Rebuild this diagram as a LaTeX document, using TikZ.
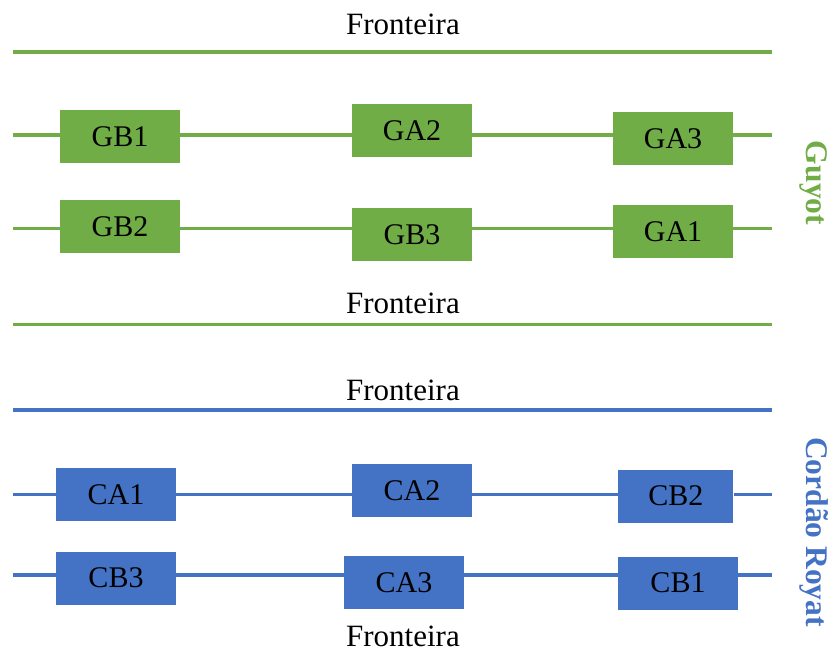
\documentclass[tikz,border=0pt]{standalone}
\usepackage{fontspec}
\setmainfont{Liberation Serif}
\definecolor{gGreen}{HTML}{70AD47}
\definecolor{gBlue}{HTML}{4472C4}
\begin{document}
\begin{tikzpicture}[x=1pt,y=-1pt,
  gbox/.style={fill=gGreen,inner sep=0pt,minimum width=120pt,minimum height=53pt,font=\fontsize{30}{30}\selectfont},
  cbox/.style={fill=gBlue,inner sep=0pt,minimum width=120pt,minimum height=53pt,font=\fontsize{30}{30}\selectfont},
  gline/.style={draw=gGreen,line width=3.4pt},
  cline/.style={draw=gBlue,line width=3.4pt},
  front/.style={anchor=base,inner sep=0pt,font=\fontsize{31}{31}\selectfont},
  side/.style={inner sep=0pt,rotate=-90,text height=22pt,text depth=7pt,font=\fontsize{31.5}{31.5}\selectfont\bfseries}]
\useasboundingbox (0,0) rectangle (832,652);
% frontier lines
\coordinate (f1a) at (13,52); \coordinate (f1b) at (772,52);
\coordinate (f2a) at (13,324.5); \coordinate (f2b) at (772,324.5);
\coordinate (f3a) at (13,410); \coordinate (f3b) at (772,410);
\draw[gline] (f1a) -- (f1b);
\draw[gline] (f2a) -- (f2b);
\draw[cline] (f3a) -- (f3b);
\node[front] (t1) at (403,35) {Fronteira};
\node[front] (t2) at (403,313) {Fronteira};
\node[front] (t3) at (403,400) {Fronteira};
\node[front] (t4) at (403,646.5) {Fronteira};
% row endpoints
\coordinate (r1a) at (13,135); \coordinate (r1b) at (772,135);
\coordinate (r2a) at (13,228.5); \coordinate (r2b) at (772,228.5);
\coordinate (r3a) at (13,494.5); \coordinate (r3b) at (772,494.5);
\coordinate (r4a) at (13,575); \coordinate (r4b) at (772,575);
% boxes
\node[gbox] (GB1) at (120,136.5) {GB1};
\node[gbox] (GA2) at (412,130.5) {GA2};
\node[gbox] (GA3) at (673,138.5) {GA3};
\node[gbox] (GB2) at (120,226.5) {GB2};
\node[gbox] (GB3) at (412,234.5) {GB3};
\node[gbox] (GA1) at (673,232) {GA1};
\node[cbox] (CA1) at (116,494.5) {CA1};
\node[cbox] (CA2) at (412,490.5) {CA2};
\node[cbox,minimum width=115pt] (CB2) at (675.8,496) {CB2};
\node[cbox] (CB3) at (116,578) {CB3};
\node[cbox] (CA3) at (404,582.5) {CA3};
\node[cbox] (CB1) at (678,583) {CB1};
% row connectors
\draw[gline] (r1a) -- (r1a -| GB1.west);
\draw[gline] (GB1.east |- r1a) -- (GA2.west |- r1a);
\draw[gline] (GA2.east |- r1a) -- (GA3.west |- r1a);
\draw[gline] (GA3.east |- r1a) -- (r1b);
\draw[gline] (r2a) -- (r2a -| GB2.west);
\draw[gline] (GB2.east |- r2a) -- (GB3.west |- r2a);
\draw[gline] (GB3.east |- r2a) -- (GA1.west |- r2a);
\draw[gline] (GA1.east |- r2a) -- (r2b);
\draw[cline] (r3a) -- (r3a -| CA1.west);
\draw[cline] (CA1.east |- r3a) -- (CA2.west |- r3a);
\draw[cline] (CA2.east |- r3a) -- (CB2.west |- r3a);
\draw[cline] (CB2.east |- r3a) -- (r3b);
\draw[cline] (r4a) -- (r4a -| CB3.west);
\draw[cline] (CB3.east |- r4a) -- (CA3.west |- r4a);
\draw[cline] (CA3.east |- r4a) -- (CB1.west |- r4a);
\draw[cline] (CB1.east |- r4a) -- (r4b);
% side labels
\node[side,text=gGreen] (guyot) at (814,183) {Guyot};
\node[side,text=gBlue] (royat) at (814,532) {Cordão Royat};
\end{tikzpicture}
\end{document}
